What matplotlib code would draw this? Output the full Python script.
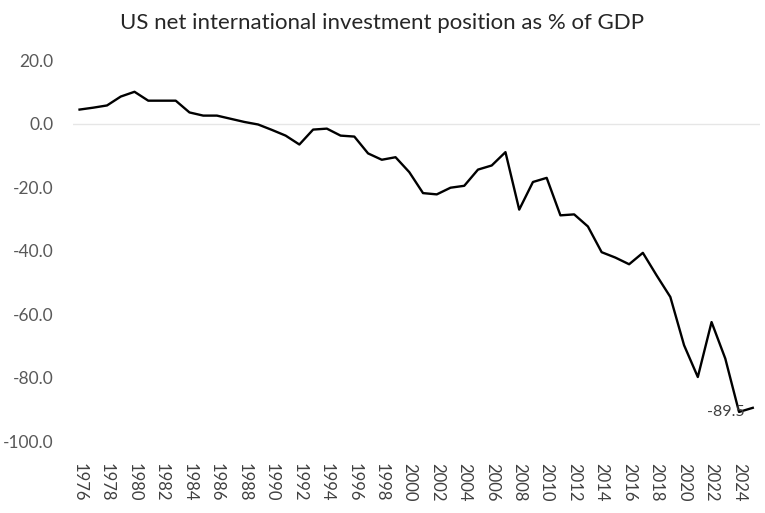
import matplotlib
matplotlib.use("Agg")
import matplotlib.pyplot as plt

# US NIIP as % of GDP
years = list(range(1976, 2026))
niip = [4.4, 5.0, 5.7, 8.5, 10.0, 7.2, 7.2, 7.2, 3.5, 2.5,
        2.5, 1.5, 0.5, -0.3, -2.0, -3.8, -6.6, -1.9, -1.6, -3.8,
        -4.1, -9.4, -11.4, -10.6, -15.3, -21.9, -22.3, -20.2, -19.6, -14.5,
        -13.2, -9.0, -27.1, -18.4, -17.1, -28.9, -28.6, -32.4, -40.5, -42.2,
        -44.3, -40.7, -47.8, -54.6, -69.8, -79.8, -62.5, -74.0, -90.8, -89.5]
tick_years = years[::2]
y_ticks = [20, 0, -20, -40, -60, -80, -100]

plt.rcParams['font.family'] = ['Lato', 'DejaVu Sans']
fig = plt.figure(figsize=(7.65, 5.13), dpi=100)
ax = fig.add_axes([0.095, 0.140, 0.898, 0.743])

x = list(range(len(years)))
ax.plot(x, niip, color='black', lw=1.7, solid_joinstyle='round')
ax.axhline(0, color='#e6e6e6', lw=1.0, zorder=0)

# label for last point
ax.annotate("%.1f" % niip[-1], (x[-1], niip[-1]), xytext=(-6, -3),
            textcoords='offset points', ha='right', va='center',
            fontsize=11.5, color='#404040')

ax.set_xlim(-0.5, len(years) - 0.5)
ax.set_ylim(-100, 20)
ax.set_yticks(y_ticks)
ax.set_yticklabels(["%.1f" % v for v in y_ticks], fontsize=12.5, color='#595959')
ax.set_xticks([years.index(y) for y in tick_years])
ax.set_xticklabels([str(y) for y in tick_years], rotation=270, fontsize=12,
                   color='#404040')
ax.tick_params(axis='both', length=0)
ax.tick_params(axis='x', pad=16)
ax.tick_params(axis='y', pad=14)
for s in ax.spines.values():
    s.set_visible(False)

fig.text(0.5, 0.955, "US net international investment position as % of GDP",
         ha='center', va='center', fontsize=16, color='#262626')

fig.savefig("out.png", dpi=100)
